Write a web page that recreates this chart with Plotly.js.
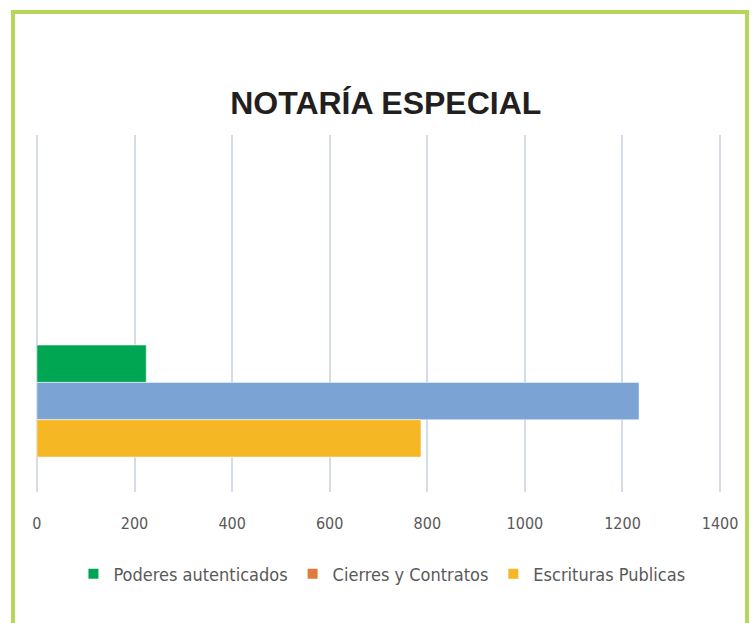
<!DOCTYPE html>
<html>
<head>
<meta charset="utf-8">
<script src="https://cdn.plot.ly/plotly-3.0.1.min.js"></script>
<style>
  html, body { margin:0; padding:0; background:#fff; }
  #wrap { position:relative; width:752px; height:623px; overflow:hidden; }
  #chart { position:absolute; left:0; top:0; width:752px; height:623px; }
  #frame { position:absolute; left:11px; top:10px; width:730px; height:700px;
           border:4px solid #B5D65A; pointer-events:none; }
</style>
</head>
<body>
<div id="wrap">
  <div id="chart"></div>
  <div id="frame"></div>
</div>
<script>
// Data
const seriesNames = ["Poderes autenticados", "Cierres y Contratos", "Escrituras Publicas"];
const seriesValues = [224, 1234, 787];
const barColors = ["#00A651", "#7BA3D4", "#F5B723"];
const legendColors = ["#00A651", "#E07B3C", "#F5B723"];
const category = [""];
const xTicks = [0, 200, 400, 600, 800, 1000, 1200, 1400];

const FONT = "'DejaVu Sans Condensed', 'Liberation Sans Narrow', sans-serif";

const traces = [];
seriesNames.forEach((name, i) => {
  traces.push({
    type: 'bar',
    orientation: 'h',
    name: name,
    x: [seriesValues[i]],
    y: category,
    marker: { color: barColors[i], line: { color: 'rgba(255,255,255,0.5)', width: 1 } },
    showlegend: false,
    hoverinfo: 'x+name'
  });
});
seriesNames.forEach((name, i) => {
  traces.push({
    type: 'scatter',
    mode: 'markers',
    name: name,
    x: [null],
    y: [null],
    marker: { symbol: 'square', size: 10, color: legendColors[i] },
    showlegend: true,
    hoverinfo: 'skip'
  });
});

const layout = {
  width: 752,
  height: 623,
  margin: { l: 34, r: 29, t: 135, b: 131 },
  paper_bgcolor: 'rgba(0,0,0,0)',
  plot_bgcolor: 'rgba(0,0,0,0)',
  barmode: 'group',
  bargap: 0.4,
  bargroupgap: 0,
  title: {
    text: '<b>NOTARÍA ESPECIAL</b>',
    font: { family: "'Liberation Sans', Arial, sans-serif", size: 32, color: '#231F20' },
    x: 0.513, xanchor: 'center',
    y: 1 - 103/623, yanchor: 'middle'
  },
  xaxis: {
    range: [-6, 1406],
    tickvals: xTicks,
    ticktext: xTicks.map(String),
    showgrid: true,
    gridcolor: '#D6DCE5',
    gridwidth: 2,
    zeroline: false,
    showline: false,
    ticks: '',
    ticklabelstandoff: 20,
    tickfont: { family: FONT, size: 16, color: '#595959' },
    fixedrange: true
  },
  yaxis: {
    type: 'category',
    range: [0.487, -1.425],
    showgrid: false,
    zeroline: false,
    showline: false,
    showticklabels: false,
    ticks: '',
    fixedrange: true
  },
  legend: {
    orientation: 'h',
    x: 0.505, xanchor: 'center',
    y: (492 - 574) / 357, yanchor: 'middle',
    font: { family: FONT, size: 18, color: '#595959' },
    itemwidth: 30,
    bgcolor: 'rgba(0,0,0,0)'
  },
  showlegend: true
};

Plotly.newPlot('chart', traces, layout, { displayModeBar: false, staticPlot: true });
</script>
</body>
</html>
